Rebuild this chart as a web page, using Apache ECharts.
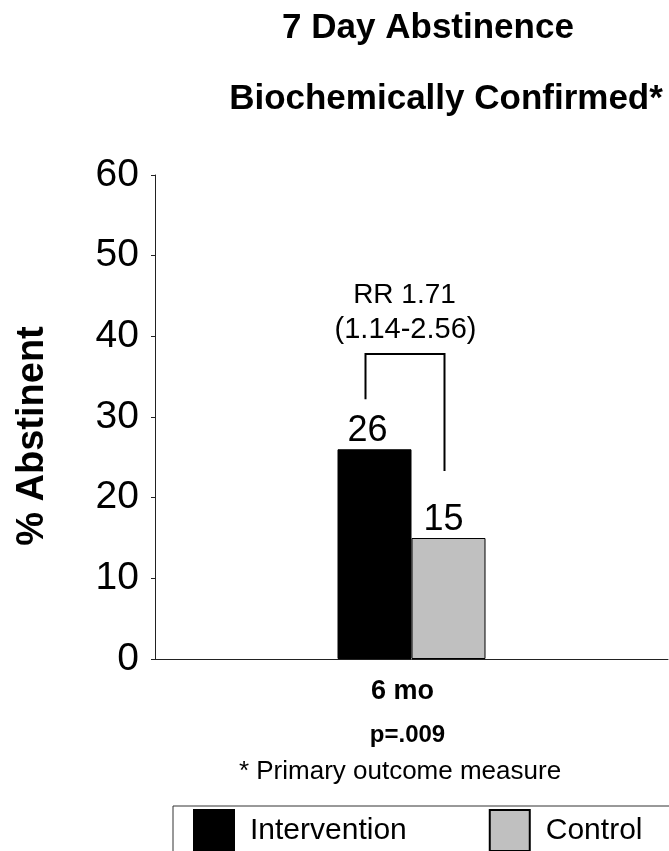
<!DOCTYPE html>
<html>
<head>
<meta charset="utf-8">
<script src="https://cdn.jsdelivr.net/npm/echarts@6/dist/echarts.min.js"></script>
<style>html,body{margin:0;padding:0;background:#fff}#c{width:669px;height:851px}</style>
</head>
<body>
<div id="c"></div>
<script>
// ---- data ----
var categories = ['6 mo'];
var interventionValues = [26];
var controlValues = [15];
var seriesNames = ['Intervention', 'Control'];
var yTicks = [0, 10, 20, 30, 40, 50, 60];
var titleLines = ['7 Day Abstinence', 'Biochemically Confirmed*'];
var yAxisTitle = '% Abstinent';
var pValueText = 'p=.009';
var footnoteText = '* Primary outcome measure';
var rrLines = ['RR 1.71', '(1.14-2.56)'];
// bracket (in axis values): top, left end, right end
var bracketTop = 37.8;
var bracketLeftEnd = 32.2;
var bracketRightEnd = 23.3;

var FONT = '"Liberation Sans", Arial, sans-serif';
var chart = echarts.init(document.getElementById('c'), null, {renderer: 'canvas'});

var option = {
  animation: false,
  backgroundColor: '#ffffff',
  grid: {left: 155, right: 1, top: 175, bottom: 192, containLabel: false},
  xAxis: {
    type: 'category',
    data: categories,
    axisLine: {show: true, lineStyle: {color: '#222', width: 1}},
    axisTick: {show: false},
    axisLabel: {
      fontFamily: FONT, fontSize: 27, fontWeight: 'bold', color: '#000',
      margin: 19, padding: [0, 18, 0, 0]
    }
  },
  yAxis: {
    type: 'value',
    min: yTicks[0], max: yTicks[yTicks.length - 1], interval: 10,
    axisLine: {show: true, lineStyle: {color: '#222', width: 1}},
    axisTick: {show: true, inside: false, length: 4, lineStyle: {color: '#222'}},
    splitLine: {show: false},
    axisLabel: {fontFamily: FONT, fontSize: 39, color: '#000', margin: 16}
  },
  legend: {
    show: true,
    left: 173, top: 806,
    width: 580,
    orient: 'horizontal',
    padding: [3, 60, 40, 20],
    borderColor: '#333', borderWidth: 1,
    itemWidth: 40, itemHeight: 41,
    itemGap: 82,
    icon: 'rect',
    textStyle: {fontFamily: FONT, fontSize: 30, color: '#000', padding: [0, 0, 0, 11]},
    data: seriesNames
  },
  series: [
    {
      name: seriesNames[0], type: 'bar', data: interventionValues,
      barWidth: 74, barGap: '0%',
      itemStyle: {color: '#000000', borderColor: '#000', borderWidth: 1},
      label: {show: true, position: 'top', distance: 0, offset: [-7, 0],
        fontFamily: FONT, fontSize: 36, color: '#000'}
    },
    {
      name: seriesNames[1], type: 'bar', data: controlValues,
      barWidth: 74, barGap: '0%',
      itemStyle: {color: '#c0c0c0', borderColor: '#000', borderWidth: 1},
      label: {show: true, position: 'top', distance: 0, offset: [-5, 0],
        fontFamily: FONT, fontSize: 36, color: '#000'}
    }
  ]
};
chart.setOption(option);

function buildGraphics() {
  var c = chart.convertToPixel({gridIndex: 0}, [categories[0], 0]);
  var cx = c[0];
  var yTop = chart.convertToPixel({gridIndex: 0}, [categories[0], bracketTop])[1];
  var yL = chart.convertToPixel({gridIndex: 0}, [categories[0], bracketLeftEnd])[1];
  var yR = chart.convertToPixel({gridIndex: 0}, [categories[0], bracketRightEnd])[1];
  var xL = cx - 46, xR = cx + 33;
  chart.setOption({
    graphic: [
      {type: 'text', x: 428, y: 28, style: {text: titleLines[0], font: 'bold 35px ' + FONT, fill: '#000', textAlign: 'center', textVerticalAlign: 'middle'}},
      {type: 'text', x: 446, y: 99, style: {text: titleLines[1], font: 'bold 35px ' + FONT, fill: '#000', textAlign: 'center', textVerticalAlign: 'middle'}},
      {type: 'text', x: 33, y: 436, rotation: Math.PI / 2, style: {text: yAxisTitle, font: 'bold 38px ' + FONT, fill: '#000', textAlign: 'center', textVerticalAlign: 'middle'}},
      {type: 'polyline', shape: {points: [[xL, yL], [xL, yTop], [xR, yTop], [xR, yR]]}, style: {stroke: '#000', lineWidth: 2, fill: null}},
      {type: 'text', x: cx - 7, y: yTop - 59, style: {text: rrLines[0], font: '28px ' + FONT, fill: '#000', textAlign: 'center', textVerticalAlign: 'middle'}},
      {type: 'text', x: cx - 6, y: yTop - 24, style: {text: rrLines[1], font: '29px ' + FONT, fill: '#000', textAlign: 'center', textVerticalAlign: 'middle'}},
      {type: 'text', x: cx - 4, y: 735, style: {text: pValueText, font: 'bold 24px ' + FONT, fill: '#000', textAlign: 'center', textVerticalAlign: 'middle'}},
      {type: 'text', x: 400, y: 772, style: {text: footnoteText, font: '26px ' + FONT, fill: '#000', textAlign: 'center', textVerticalAlign: 'middle'}}
    ]
  });
}
buildGraphics();
</script>
</body>
</html>
